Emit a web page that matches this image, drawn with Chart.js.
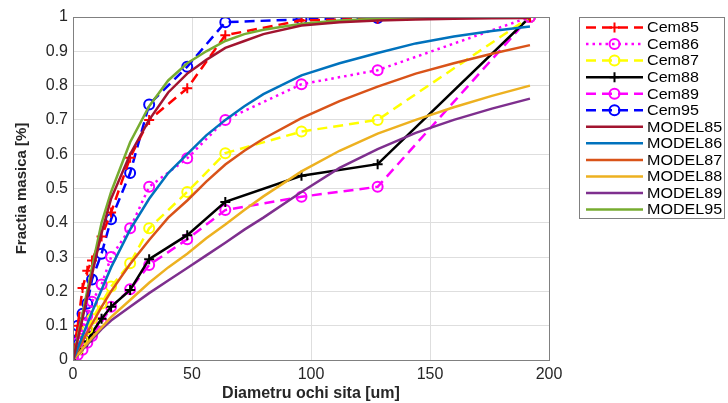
<!DOCTYPE html>
<html>
<head>
<meta charset="utf-8">
<script src="https://cdn.jsdelivr.net/npm/chart.js@4.4.0/dist/chart.umd.min.js"></script>
<style>
    body { margin: 0; background: #ffffff; }
    #wrap { width: 728px; height: 403px; }
</style>
</head>
<body>
<div id="wrap"><canvas id="chart" width="728" height="403"></canvas></div>
<script>
// sieve sizes [um] for the measured series
const sieveSizes = [0, 2, 4, 6, 8, 12, 16, 24, 32, 48, 64, 96, 128, 192];
const cem85 = [0.02, 0.10, 0.21, 0.26, 0.29, 0.36, 0.43, 0.59, 0.70, 0.792, 0.947, 0.99, 0.995, 1.0];
const cem86 = [0.01, 0.05, 0.09, 0.13, 0.17, 0.22, 0.30, 0.384, 0.505, 0.588, 0.70, 0.804, 0.845, 1.0];
const cem87 = [0.01, 0.03, 0.06, 0.09, 0.12, 0.165, 0.214, 0.282, 0.384, 0.49, 0.603, 0.666, 0.70, 1.0];
const cem88 = [0, 0.02, 0.04, 0.055, 0.08, 0.12, 0.155, 0.204, 0.294, 0.364, 0.461, 0.537, 0.571, 1.0];
const cem89 = [0, 0.015, 0.03, 0.05, 0.07, 0.11, 0.155, 0.206, 0.277, 0.352, 0.437, 0.476, 0.505, 1.0];
const cem95 = [0.045, 0.10, 0.135, 0.165, 0.235, 0.31, 0.41, 0.545, 0.745, 0.855, 0.985, 0.993, 0.997, 1.0];

// sizes where the model curves were read
const modelSizes = [0, 4, 8, 12, 16, 24, 32, 40, 48, 56, 64, 72, 80, 96, 112, 128, 144, 160, 176, 192];
const model85 = [0, 0.12, 0.25, 0.37, 0.47, 0.60, 0.70, 0.78, 0.835, 0.875, 0.91, 0.93, 0.95, 0.975, 0.985, 0.99, 0.993, 0.995, 0.996, 0.997];
const model86 = [0, 0.07, 0.14, 0.205, 0.27, 0.38, 0.47, 0.545, 0.60, 0.655, 0.70, 0.74, 0.775, 0.83, 0.865, 0.895, 0.923, 0.943, 0.959, 0.972];
const model87 = [0, 0.055, 0.105, 0.155, 0.20, 0.28, 0.35, 0.415, 0.465, 0.52, 0.57, 0.61, 0.645, 0.705, 0.755, 0.797, 0.835, 0.865, 0.893, 0.918];
const model88 = [0, 0.033, 0.065, 0.095, 0.125, 0.175, 0.225, 0.27, 0.31, 0.355, 0.395, 0.437, 0.477, 0.55, 0.61, 0.66, 0.70, 0.737, 0.77, 0.80];
const model89 = [0, 0.03, 0.06, 0.09, 0.115, 0.155, 0.195, 0.232, 0.268, 0.305, 0.342, 0.38, 0.415, 0.49, 0.56, 0.615, 0.662, 0.70, 0.733, 0.762];
const model95 = [0, 0.135, 0.27, 0.40, 0.49, 0.635, 0.74, 0.815, 0.865, 0.90, 0.93, 0.95, 0.963, 0.98, 0.99, 0.995, 0.997, 0.998, 0.999, 1.0];

const xTicks = [0, 50, 100, 150, 200];
const yTicks = [0, 0.1, 0.2, 0.3, 0.4, 0.5, 0.6, 0.7, 0.8, 0.9, 1];

const TEXT = "#262626";

function toPoints(xs, ys) {
    return xs.map((x, i) => ({ x: x, y: ys[i] }));
}

function measured(label, values, color, dash, marker) {
    return {
        label: label,
        data: toPoints(sieveSizes, values),
        borderColor: color,
        borderWidth: 2.5,
        borderDash: dash,
        pointStyle: marker,
        pointRadius: marker === "cross" ? 5 : 5,
        pointBorderWidth: 2,
        pointBorderColor: color,
        pointBackgroundColor: "rgba(0,0,0,0)",
        tension: 0,
        order: 1,
    };
}

function model(label, values, color) {
    return {
        label: label,
        data: toPoints(modelSizes, values),
        borderColor: color,
        borderWidth: 2.5,
        pointRadius: 0,
        tension: 0,
        order: 0,
    };
}

const datasets = [
    measured("Cem85", cem85, "#ff0000", [10, 6], "cross"),
    measured("Cem86", cem86, "#ff00ff", [2.5, 4], "circle"),
    measured("Cem87", cem87, "#ffff00", [10, 6], "circle"),
    measured("Cem88", cem88, "#000000", [], "cross"),
    measured("Cem89", cem89, "#ff00ff", [10, 6], "circle"),
    measured("Cem95", cem95, "#0000ff", [10, 6], "circle"),
    model("MODEL85", model85, "#a2142f"),
    model("MODEL86", model86, "#0072bd"),
    model("MODEL87", model87, "#d95319"),
    model("MODEL88", model88, "#edb120"),
    model("MODEL89", model89, "#7e2f8e"),
    model("MODEL95", model95, "#77ac30"),
];

// axes box (MATLAB "box on") and the line+marker legend
const boxAndLegend = {
    id: "boxAndLegend",
    afterDatasetsDraw(chart) {
        const ctx = chart.ctx;
        const a = chart.chartArea;
        ctx.save();
        ctx.strokeStyle = "#808080";
        ctx.lineWidth = 1;
        ctx.setLineDash([]);
        ctx.strokeRect(Math.round(a.left) + 0.5, Math.round(a.top) + 0.5,
            Math.round(a.right - a.left), Math.round(a.bottom - a.top));

        const lx = 579, ly = 17, lw = 145, lh = 201;
        ctx.fillStyle = "#ffffff";
        ctx.fillRect(lx, ly, lw, lh);
        ctx.strokeRect(lx + 0.5, ly + 0.5, lw, lh);

        chart.data.datasets.forEach((ds, i) => {
            const y = 27.5 + i * 16.55;
            ctx.strokeStyle = ds.borderColor;
            ctx.lineWidth = 2.5;
            ctx.setLineDash(ds.borderDash || []);
            ctx.beginPath();
            ctx.moveTo(586, y);
            ctx.lineTo(643, y);
            ctx.stroke();
            ctx.setLineDash([]);
            ctx.lineWidth = 2;
            if (ds.pointRadius > 0) {
                const cx = 614.5;
                ctx.beginPath();
                if (ds.pointStyle === "cross") {
                    ctx.moveTo(cx - 5, y);
                    ctx.lineTo(cx + 5, y);
                    ctx.moveTo(cx, y - 5);
                    ctx.lineTo(cx, y + 5);
                } else {
                    ctx.arc(cx, y, 5, 0, Math.PI * 2);
                }
                ctx.stroke();
            }
            ctx.fillStyle = "#000000";
            ctx.font = "14px 'Liberation Sans', Arial, sans-serif";
            ctx.textBaseline = "middle";
            ctx.save();
            ctx.translate(647, y + 1);
            ctx.scale(1.15, 1);
            ctx.fillText(ds.label, 0, 0);
            ctx.restore();
        });
        ctx.restore();
    },
};

new Chart(document.getElementById("chart"), {
    type: "line",
    data: { datasets },
    options: {
        responsive: false,
        animation: false,
        layout: { padding: { left: 0, top: 17, right: 179, bottom: 0 } },
        plugins: {
            legend: { display: false },
            tooltip: { enabled: false },
        },
        scales: {
            x: {
                type: "linear",
                min: 0,
                max: 200,
                afterBuildTicks: (axis) => { axis.ticks = xTicks.map((v) => ({ value: v })); },
                afterFit: (axis) => { axis.height = 43; },
                grid: { color: "#dedede", lineWidth: 1, drawTicks: false },
                border: { color: "#808080" },
                ticks: { color: TEXT, padding: 5, font: { family: "'Liberation Sans', Arial", size: 16 } },
                title: {
                    display: true,
                    text: "Diametru ochi sita [um]",
                    color: TEXT,
                    padding: { top: 0, bottom: 0 },
                    font: { family: "'Liberation Sans', Arial", size: 16, weight: "bold" },
                },
            },
            y: {
                type: "linear",
                min: 0,
                max: 1,
                afterBuildTicks: (axis) => { axis.ticks = yTicks.map((v) => ({ value: v })); },
                afterFit: (axis) => { axis.width = 73; },
                grid: { color: "#dedede", lineWidth: 1, drawTicks: false },
                border: { color: "#808080" },
                ticks: {
                    color: TEXT,
                    padding: 5,
                    font: { family: "'Liberation Sans', Arial", size: 16 },
                    callback: (v) => (v === 0 || v === 1 ? String(v) : v.toFixed(1)),
                },
                title: {
                    display: true,
                    text: "Fractia masica [%]",
                    color: TEXT,
                    padding: { top: 13, bottom: 0 },
                    font: { family: "'Liberation Sans', Arial", size: 15, weight: "bold" },
                },
            },
        },
    },
    plugins: [boxAndLegend],
});
</script>
</body>
</html>
